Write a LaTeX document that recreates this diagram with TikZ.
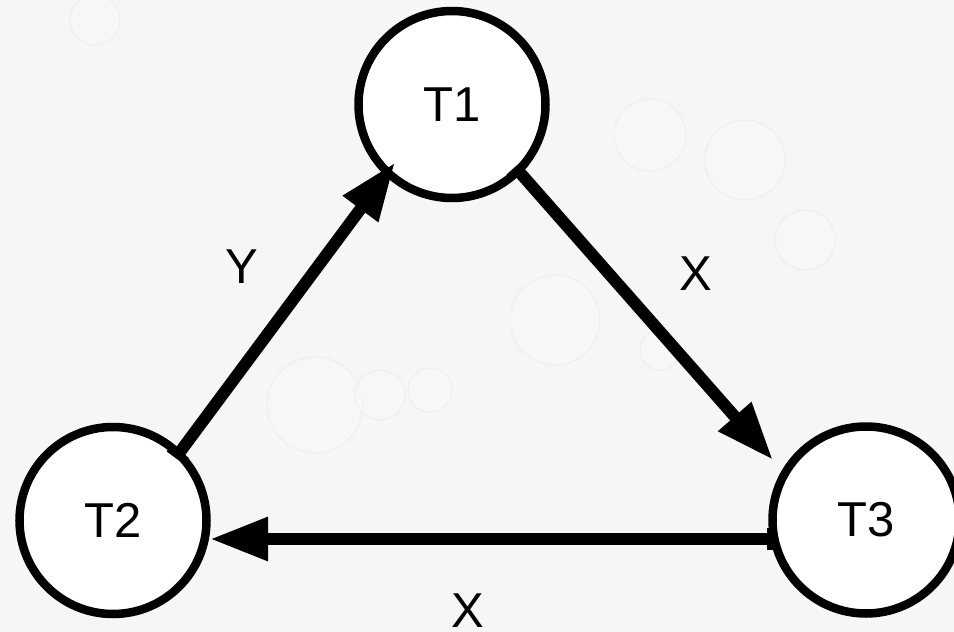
\documentclass[tikz,border=0pt]{standalone}
\usepackage{fontspec}
\setmainfont{Liberation Sans}
\usetikzlibrary{arrows.meta,calc}
\definecolor{bgcol}{RGB}{245,246,248}
\definecolor{bubble}{RGB}{239,240,242}
\tikzset{
  state/.style={circle,draw=black,fill=white,line width=8.5pt,minimum size=187pt,inner sep=0pt,
    font=\fontsize{49}{52}\selectfont},
  lbl/.style={inner sep=0pt,font=\fontsize{49}{52}\selectfont},
  conn/.style={line width=12pt,{Bar[width=22pt,line width=8pt]}-{Triangle[length=58pt,width=41pt]}},
  bub/.style={draw=bubble,line width=1.5pt,fill=white,fill opacity=0.2}
}
\begin{document}
\begin{tikzpicture}[x=1pt,y=-1pt]
\fill[bgcol] (0,0) rectangle (954,632);
\useasboundingbox (0,0) rectangle (954,632);
\begin{scope}
\clip (0,0) rectangle (954,632);
\path[bub] (650,135) circle (36);
\path[bub] (745,160) circle (40);
\path[bub] (805,240) circle (30);
\path[bub] (555,320) circle (45);
\path[bub] (315,405) circle (48);
\path[bub] (380,395) circle (25);
\path[bub] (430,390) circle (22);
\path[bub] (95,20) circle (25);
\path[bub] (660,350) circle (20);
\node[state] (t1) at (452,104.5) {T1};
\node[state] (t2) at (113,520.5) {T2};
\node[state] (t3) at (866,520) {T3};
\end{scope}
\draw[conn] ($(t2)+(62.5,-62.5)$) -- ($(t1)+(-57,58)$);
\draw[conn] ($(t1)+(63,62.5)$) -- ($(t3)+(-93,-60)$);
\draw[conn] ($(t3)+(-91,19)$) -- ($(t2)+(97,18.5)$);
\node[lbl] (ly) at (242,266.5) {Y};
\node[lbl] (lx1) at (696,273.5) {X};
\node[lbl] (lx2) at (468,611) {X};
\end{tikzpicture}
\end{document}
